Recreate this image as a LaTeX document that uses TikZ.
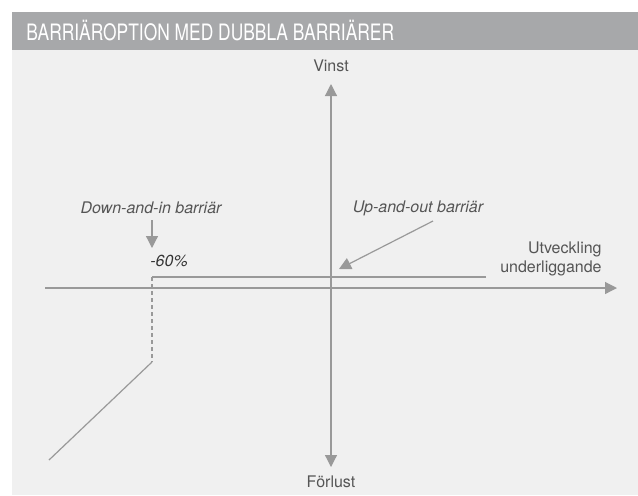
\documentclass[tikz,border=0pt]{standalone}
\usepackage{fontspec}
\setmainfont{TeX Gyre Heros}
\newfontfamily\titlefont[FakeStretch=0.77]{TeX Gyre Heros}
\definecolor{headgray}{HTML}{A7A8AA}
\definecolor{panelgray}{HTML}{F0F0F0}
\definecolor{linegray}{HTML}{999999}
\definecolor{textgray}{HTML}{555555}
\usetikzlibrary{arrows.meta}
\tikzset{
	axis/.style={draw=linegray, line width=0.6pt, -{Triangle[length=6pt, width=6pt]}},
	payoff/.style={draw=linegray, line width=0.6pt},
	lbl/.style={text=textgray, font=\fontsize{8}{9.5}\selectfont, inner sep=0pt},
	note/.style={lbl, font=\fontsize{8}{9.5}\selectfont\itshape}
}
\begin{document}
\begin{tikzpicture}[x=0.5pt, y=-0.5pt]
	\useasboundingbox (0, 0) rectangle (638, 495);
	% panel
	\fill[panelgray] (12, 50) rectangle (638, 495);
	\fill[headgray] (12, 12) rectangle (638, 50);
	\node[anchor=west, text=white, inner sep=0pt, font=\titlefont\fontsize{11.3}{13}\selectfont] (title) at (26, 31) {BARRIÄROPTION MED DUBBLA BARRIÄRER};
	% axes
	\coordinate (O) at (331, 288);
	\coordinate (xs) at (45, 288);
	\coordinate (xe) at (617, 288);
	\coordinate (ys) at (331, 84);
	\coordinate (ye) at (331, 467);
	\draw[axis] (xs) -- (xe);
	\draw[axis] (O) -- (ys);
	\draw[axis] (O) -- (ye);
	\node[lbl] (vinst) at (331, 66) {Vinst};
	\node[lbl] (forlust) at (331, 482) {Förlust};
	\node[lbl, align=right, anchor=east] (utv) at (602, 259) {Utveckling\\underliggande};
	% payoff
	\coordinate (b1) at (152, 277);
	\coordinate (b2) at (486, 277);
	\coordinate (b3) at (152, 362);
	\coordinate (b4) at (49, 460);
	\draw[payoff] (b2) -- (b1);
	\draw[payoff, dash pattern=on 2pt off 1.5pt] (b1) -- (b3);
	\draw[payoff] (b3) -- (b4);
	% barriers
	\node[note] (down) at (151, 208) {Down-and-in barriär};
	\node[note, text=black!80, anchor=west] (pct) at (150, 261) {-60\%};
	\node[note] (up) at (418, 208) {Up-and-out barriär};
	\coordinate (downtip) at (152, 248);
	\coordinate (uptip) at (339, 269);
	\draw[axis] (152, 220) -- (downtip);
	\draw[axis] (433, 221) -- (uptip);
\end{tikzpicture}
\end{document}
